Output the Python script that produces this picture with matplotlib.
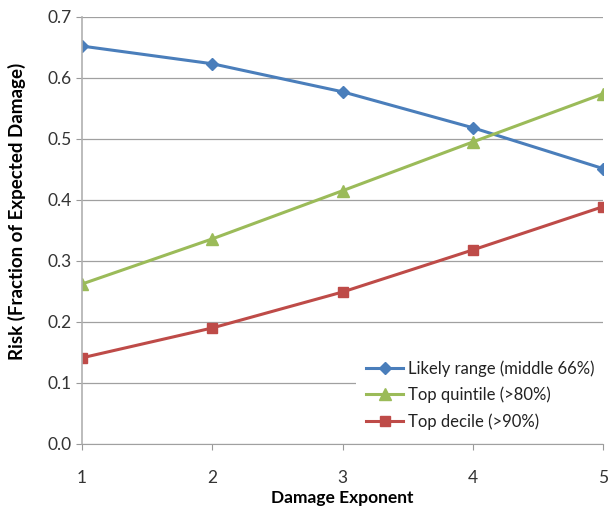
import matplotlib
matplotlib.use("Agg")
import matplotlib.pyplot as plt

exponent = [1, 2, 3, 4, 5]
likely = [0.652, 0.623, 0.577, 0.518, 0.451]
quintile = [0.262, 0.336, 0.415, 0.495, 0.574]
decile = [0.141, 0.190, 0.249, 0.318, 0.389]
yticks = [0.0, 0.1, 0.2, 0.3, 0.4, 0.5, 0.6, 0.7]

plt.rcParams["font.family"] = ["Lato", "DejaVu Sans"]

fig = plt.figure(figsize=(6.12, 5.09), dpi=100)
ax = fig.add_axes([0.134, 0.128, 0.852, 0.839])

ax.plot(exponent, likely, color="#4A7EBB", lw=2.2, marker="D", ms=6,
        label="Likely range (middle 66%)")
ax.plot(exponent, quintile, color="#9BBB59", lw=2.2, marker="^", ms=8,
        label="Top quintile (>80%)")
ax.plot(exponent, decile, color="#BE4B48", lw=2.2, marker="s", ms=7,
        label="Top decile (>90%)")

ax.set_xlim(1, 5)
ax.set_ylim(0, 0.7)
ax.set_xticks(exponent)
ax.set_yticks(yticks, [f"{v:.1f}" for v in yticks])
ax.tick_params(labelsize=12.5, colors="#333333", length=4, color="#999999")
ax.tick_params(axis="x", pad=15)
ax.yaxis.grid(True, color="#a0a0a0", lw=0.9)
ax.set_axisbelow(True)
for s in ["top", "right"]:
    ax.spines[s].set_visible(False)
ax.spines["left"].set_color("#b0b0b0")
ax.spines["bottom"].set_color("#a0a0a0")
ax.spines["left"].set_linewidth(1.2)

ax.set_xlabel("Damage Exponent", fontsize=12.5, fontweight="bold", labelpad=3)
ax.set_ylabel("Risk (Fraction of Expected Damage)", fontsize=13.5,
              fontweight="bold")
ax.yaxis.set_label_coords(-0.108, 0.545)

leg = ax.legend(loc="lower right", bbox_to_anchor=(1.018, -0.01), frameon=True,
                fontsize=12, handlelength=2.2, handletextpad=0.3,
                borderpad=0.6, labelspacing=0.6)
leg.get_frame().set_edgecolor("none")
leg.get_frame().set_facecolor("white")
leg.get_frame().set_alpha(1)
for t in leg.get_texts():
    t.set_color("#222222")

fig.savefig("out.png", dpi=100)
